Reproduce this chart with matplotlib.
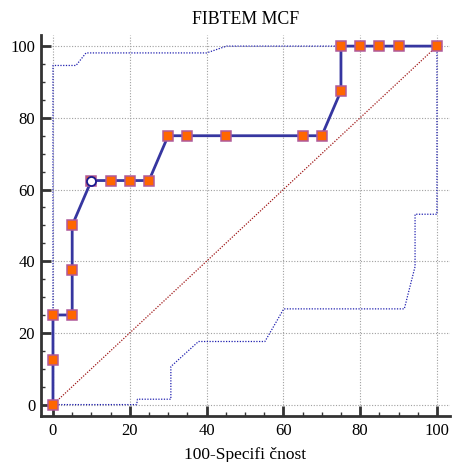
import matplotlib
matplotlib.use("Agg")
import matplotlib.pyplot as plt
from matplotlib.ticker import MultipleLocator

# ROC curve (100-Specificity, Sensitivity)
roc_x = [0, 0, 0, 5, 5, 5, 10, 15, 20, 25, 30, 35, 45, 65, 70, 75, 75, 80, 85, 90, 100]
roc_y = [0, 12.5, 25, 25, 37.5, 50, 62.5, 62.5, 62.5, 62.5, 75, 75, 75, 75, 75, 87.5, 100, 100, 100, 100, 100]
# highlighted criterion point
crit_x = [10]
crit_y = [62.5]
# confidence bounds
upper_x = [0, 0, 6, 8.6, 40, 45.2, 100]
upper_y = [0, 94.6, 94.6, 98.1, 98.1, 100, 100]
lower_x = [0, 21.8, 22, 30.7, 30.7, 37.9, 55.2, 60.1, 91.5, 94.3, 94.3, 100, 100]
lower_y = [0, 0, 1.5, 1.5, 10.6, 17.6, 17.6, 26.7, 26.7, 38.5, 53.1, 53.1, 100]
diag_x = [0, 100]
diag_y = [0, 100]

plt.rcParams['font.family'] = ['Liberation Serif', 'DejaVu Serif']

fig = plt.figure(figsize=(4.53, 4.62), dpi=100)
ax = fig.add_axes([40.7/453, 1 - 415.7/462, (450 - 40.7)/453, (415.7 - 35)/462])

ax.set_xlim(-3.2, 103.4)
ax.set_ylim(-3.1, 103.1)

ax.grid(True, which='major', color='#a0a0a0', linestyle=(0, (1, 1.5)), linewidth=0.8)
ax.set_axisbelow(True)

ax.plot(diag_x, diag_y, color='#a01818', linestyle=(0, (1, 1.2)), linewidth=0.9, zorder=2)
ax.plot(upper_x, upper_y, color='#2020b0', linestyle=(0, (1, 1.2)), linewidth=0.9, zorder=2)
ax.plot(lower_x, lower_y, color='#2020b0', linestyle=(0, (1, 1.2)), linewidth=0.9, zorder=2)

ax.plot(roc_x, roc_y, color='#3636a0', linewidth=2.0, zorder=3,
        marker='s', markersize=6.5, markerfacecolor='#ff6600',
        markeredgecolor='#b05a9a', markeredgewidth=1.1)
ax.plot(crit_x, crit_y, linestyle='none', marker='o', markersize=6.5,
        markerfacecolor='white', markeredgecolor='#1a1a90', markeredgewidth=1.3, zorder=4)

for s in ['top', 'right']:
    ax.spines[s].set_visible(False)
for s in ['left', 'bottom']:
    ax.spines[s].set_linewidth(2.0)
    ax.spines[s].set_color('#333333')

ax.xaxis.set_major_locator(MultipleLocator(20))
ax.xaxis.set_minor_locator(MultipleLocator(5))
ax.yaxis.set_major_locator(MultipleLocator(20))
ax.yaxis.set_minor_locator(MultipleLocator(5))
ax.tick_params(which='major', direction='in', length=7, width=2.0, color='#333333',
               labelsize=12, pad=4)
ax.tick_params(axis='x', which='major', pad=5)
ax.tick_params(which='minor', direction='in', length=3, width=1, color='#333333')

ax.set_title('FIBTEM MCF', fontsize=12.8, pad=8)
ax.set_xlabel('100-Specifi čnost', fontsize=12.5, labelpad=6)

fig.savefig('out.png', dpi=100)
